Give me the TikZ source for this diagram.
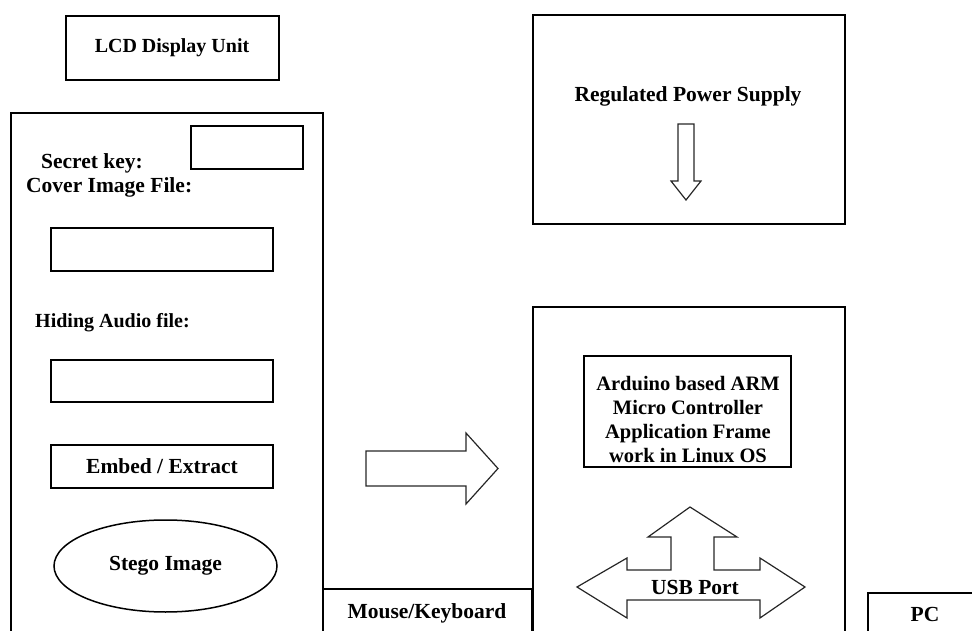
\documentclass[tikz,border=0pt]{standalone}
\usepackage{fontspec}
\setmainfont{Liberation Serif}
\usetikzlibrary{shapes.geometric}
\begin{document}
\begin{tikzpicture}[x=1pt,y=-1pt,
  box/.style={draw=black, line width=1.5pt},
  blk/.style={draw=black!85, line width=1.2pt, line join=miter},
  lbl/.style={font=\fontsize{21.5}{24}\selectfont\bfseries, inner sep=0pt, align=center},
  small/.style={font=\fontsize{20}{23}\selectfont\bfseries}]
\useasboundingbox (0,0) rectangle (972,631);
% LCD
\draw[box] (66,16) rectangle (279,80);
\node[lbl, small] (lcd) at (172,48) {LCD Display Unit};
% left panel
\draw[box] (11,640) |- (323,113) -- (323,640);
\draw[box] (191,126) rectangle (303,169);
\node[lbl, anchor=west] (key) at (41,163) {Secret key:};
\node[lbl, anchor=west] (cover) at (26,187) {Cover Image File:};
\draw[box] (51,228) rectangle (273,271);
\node[lbl, small, anchor=west] (hide) at (35,323) {Hiding Audio file:};
\draw[box] (51,360) rectangle (273,402);
\draw[box] (51,445) rectangle (273,488);
\node[lbl] (embed) at (162,466) {Embed / Extract};
\node[box, ellipse, minimum width=223pt, minimum height=92pt, lbl, draw] (stego) at (165.5,566) {Stego Image};
% mouse
\draw[box] (323,640) |- (532,589) -- (532,640);
\node[lbl] (mouse) at (427,613) {Mouse/Keyboard};
% big right arrow
\draw[blk] (366,451) -- (466,451) -- (466,433) -- (498,468.5) -- (466,504) -- (466,486) -- (366,486) -- cycle;
% power supply
\draw[box] (533,15) rectangle (845,224);
\node[lbl] (psu) at (688,96) {Regulated Power Supply};
\draw[blk] (678,124) -- (694,124) -- (694,181) -- (701,181) -- (686,200) -- (671,181) -- (678,181) -- cycle;
% micro controller
\draw[box] (533,640) |- (845,307) -- (845,640);
\draw[box] (584,356) rectangle (791,467);
\node[lbl, font=\fontsize{20.5}{24}\selectfont\bfseries] (arm) at (688,420) {Arduino based ARM\\Micro Controller\\Application Frame\\work in Linux OS};
% USB arrow
\draw[blk] (577,587) -- (627,558) -- (627,570) -- (671,570) -- (671,537) -- (648,537) -- (690,507)
  -- (737,537) -- (714,537) -- (714,570) -- (760,570) -- (760,558) -- (805,587) -- (760,618)
  -- (760,600) -- (627,600) -- (627,618) -- cycle;
\node[lbl] (usb) at (695,587) {USB Port};
% PC
\draw[box] (868,640) |- (980,593);
\node[lbl] (pc) at (925,614) {PC};
\end{tikzpicture}
\end{document}
